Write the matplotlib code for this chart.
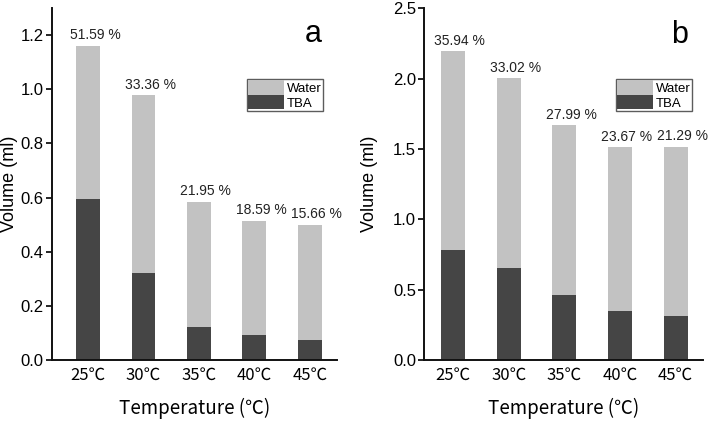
import matplotlib
matplotlib.use("Agg")
import matplotlib.pyplot as plt
from matplotlib.patches import Patch

plt.rcParams['font.family'] = ['Liberation Sans', 'Noto Sans CJK SC', 'DejaVu Sans']
cjk = ['Noto Sans CJK SC', 'Liberation Sans']

categories = ['25℃', '30℃', '35℃', '40℃', '45℃']
tba_a = [0.593, 0.321, 0.123, 0.091, 0.074]
total_a = [1.160, 0.978, 0.585, 0.515, 0.500]
pct_a = ['51.59 %', '33.36 %', '21.95 %', '18.59 %', '15.66 %']
tba_b = [0.782, 0.656, 0.460, 0.350, 0.313]
total_b = [2.196, 2.002, 1.670, 1.514, 1.516]
pct_b = ['35.94 %', '33.02 %', '27.99 %', '23.67 %', '21.29 %']

water_color = '#c2c2c2'
tba_color = '#454545'

fig = plt.figure(figsize=(7.09, 4.24), dpi=100)
ax_a = fig.add_axes([0.0733, 0.1509, 0.4020, 0.8301])
ax_b = fig.add_axes([0.5984, 0.1509, 0.3931, 0.8295])

def draw(ax, tba, total, pct, ylim, yticks, xlim, letter, leg_xy, ylab_x):
    x = list(range(1, len(categories) + 1))
    water = [t - b for t, b in zip(total, tba)]
    ax.bar(x, tba, width=0.43, color=tba_color, edgecolor='none')
    ax.bar(x, water, bottom=tba, width=0.43, color=water_color, edgecolor='none')
    for xi, t, p in zip(x, total, pct):
        ax.annotate(p, (xi, t), xytext=(5, 2.5), textcoords='offset points',
                    ha='center', va='bottom', fontsize=10, color='#222222')
    ax.set_xlim(*xlim)
    ax.set_ylim(*ylim)
    ax.set_yticks(yticks)
    ax.set_yticklabels([f'{v:.1f}' for v in yticks])
    ax.set_xticks(x)
    ax.set_xticklabels(categories, family=cjk, fontsize=12)
    ax.tick_params(axis='y', direction='out', length=4, width=1.2, labelsize=12, pad=2)
    ax.tick_params(axis='x', length=0, pad=5)
    for s in ['top', 'right']:
        ax.spines[s].set_visible(False)
    for s in ['left', 'bottom']:
        ax.spines[s].set_linewidth(1.4)
        ax.spines[s].set_color('#111111')
    ax.set_ylabel('Volume (ml)', fontsize=13, va='center')
    ax.yaxis.set_label_coords(ylab_x, 0.5)
    ax.set_xlabel('Temperature (℃)', fontsize=13.5, labelpad=10, family=cjk)
    ax.text(0.915, 0.925, letter, transform=ax.transAxes, fontsize=22,
            ha='center', va='center')
    handles = [Patch(facecolor=water_color, edgecolor='none'),
               Patch(facecolor=tba_color, edgecolor='none')]
    leg = ax.legend(handles, ['Water', 'TBA'], loc='upper left',
                    bbox_to_anchor=leg_xy, fontsize=9.5, frameon=True,
                    fancybox=False, handlelength=2.7, handleheight=1.3,
                    labelspacing=0.0, borderpad=0.1, handletextpad=0.2,
                    borderaxespad=0)
    leg.get_frame().set_edgecolor('#333333')
    leg.get_frame().set_linewidth(1.0)

draw(ax_a, tba_a, total_a, pct_a, (0, 1.3), [0.0, 0.2, 0.4, 0.6, 0.8, 1.0, 1.2],
     (0.35, 5.49), 'a', (0.684, 0.798), -0.150)
draw(ax_b, tba_b, total_b, pct_b, (0, 2.5), [0.0, 0.5, 1.0, 1.5, 2.0, 2.5],
     (0.485, 5.49), 'b', (0.688, 0.799), -0.195)

fig.savefig('out.png', dpi=100)
